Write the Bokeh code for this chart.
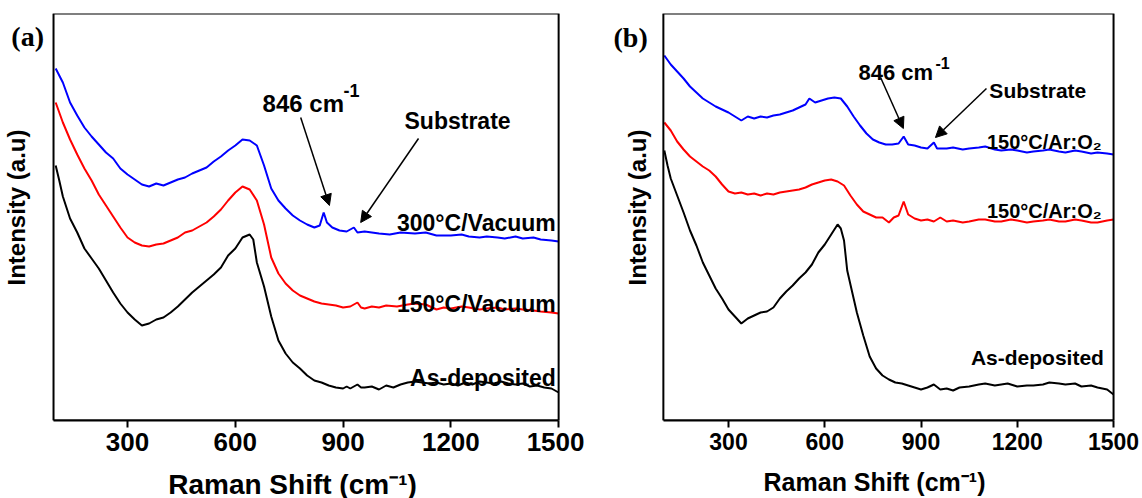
import math
from bokeh.plotting import figure
from bokeh.layouts import row
from bokeh.models import Range1d, Label, Arrow, NormalHead, FixedTicker, BoxAnnotation
from bokeh.embed import file_html
from bokeh.resources import INLINE

# ---------------- data: panel (a) ----------------
a_black_x = [100, 110, 120, 140, 160, 180, 200, 220, 240, 260, 280, 300, 320, 340, 360, 380, 400, 420, 440, 460,
             480, 500, 520, 540, 560, 580, 600, 620, 640, 650, 660, 680, 700, 720, 740, 760, 780, 800, 820, 840,
             860, 880, 900, 910, 920, 940, 950, 960, 980, 1000, 1010, 1020, 1040, 1060, 1080, 1100, 1120, 1140,
             1160, 1180, 1200, 1220, 1240, 1260, 1280, 1300, 1320, 1340, 1360, 1380, 1400, 1420, 1440, 1460,
             1480, 1490, 1500]
a_black_y = [255, 240, 224, 202, 188, 172, 162, 152, 140, 128, 117, 108, 101, 95, 97, 101, 103, 108, 114, 121,
             128, 134, 140, 146, 153, 165, 172, 183, 186, 181, 158, 134, 104, 80, 67, 58, 52, 45, 40, 38,
             35, 33, 32, 34, 32, 36, 33, 33, 34, 31, 33, 35, 33, 36, 38, 39, 38, 37,
             38, 36, 37, 35, 38, 36, 39, 38, 37, 39, 37, 36, 37, 34, 35, 33,
             32, 30, 28]

a_red_x = [100, 120, 140, 160, 180, 200, 220, 240, 260, 280, 300, 320, 340, 360, 380, 400, 420, 440, 460, 480,
           500, 520, 540, 560, 580, 600, 620, 640, 660, 680, 700, 720, 740, 760, 780, 800, 820, 840, 860, 880,
           900, 920, 940, 950, 960, 980, 1000, 1020, 1050, 1080, 1100, 1130, 1160, 1180, 1200, 1230, 1250, 1280,
           1300, 1330, 1350, 1380, 1400, 1430, 1450, 1480, 1500]
a_red_y = [318, 298, 281, 266, 252, 240, 226, 215, 204, 193, 183, 178, 175, 174, 176, 177, 180, 183, 188, 190,
           194, 198, 204, 211, 220, 228, 234, 231, 220, 196, 163, 147, 137, 130, 125, 122, 119, 117, 116, 115,
           113, 114, 118, 113, 112, 114, 113, 115, 114, 116, 117, 116, 111, 113, 112, 114, 113, 111,
           112, 113, 111, 112, 111, 110, 109, 108, 107]

a_blue_x = [100, 120, 140, 160, 180, 200, 220, 240, 260, 280, 300, 320, 340, 360, 380, 400, 420, 440, 460, 480,
            500, 520, 540, 560, 580, 600, 620, 640, 660, 680, 700, 720, 740, 760, 780, 800, 820, 835, 846, 855,
            870, 890, 910, 930, 940, 960, 980, 1000, 1030, 1060, 1100, 1130, 1160, 1200, 1230, 1250, 1280,
            1300, 1330, 1350, 1380, 1400, 1430, 1450, 1480, 1500]
a_blue_y = [352, 338, 318, 305, 293, 284, 276, 268, 262, 252, 246, 241, 236, 234, 237, 235, 238, 241, 243, 247,
            250, 253, 259, 264, 270, 275, 281, 280, 275, 255, 232, 220, 212, 205, 200, 196, 193, 195, 208, 198,
            193, 190, 189, 193, 188, 189, 188, 187, 186, 188, 187, 188, 185, 185, 186, 184, 183,
            184, 183, 182, 184, 182, 183, 181, 180, 179]

# ---------------- data: panel (b) ----------------
b_black_x = [100, 110, 120, 140, 160, 180, 200, 220, 240, 260, 280, 300, 320, 340, 360, 380, 400, 420, 440, 460,
             480, 500, 520, 540, 560, 580, 600, 620, 640, 650, 660, 670, 690, 700, 720, 740, 760, 780, 800, 820,
             840, 860, 880, 900, 920, 940, 960, 980, 1000, 1020, 1050, 1080, 1100, 1130, 1150, 1170, 1200, 1230,
             1250, 1280, 1300, 1330, 1350, 1380, 1400, 1430, 1450, 1480, 1500]
b_black_y = [270, 255, 242, 225, 208, 190, 175, 158, 145, 132, 122, 111, 104, 97, 102, 105, 108, 109, 113, 122,
             129, 135, 142, 148, 156, 168, 176, 186, 196, 192, 180, 150, 122, 108, 85, 64, 52, 45, 41, 38,
             37, 35, 33, 31, 33, 36, 31, 32, 30, 33, 34, 36, 37, 35, 36, 37, 34, 35,
             35, 36, 38, 37, 36, 37, 34, 35, 33, 31, 26]

b_red_x = [100, 120, 140, 160, 180, 200, 220, 240, 260, 280, 300, 320, 340, 360, 380, 400, 420, 440, 460, 480,
           500, 520, 540, 560, 580, 600, 620, 640, 660, 680, 700, 720, 740, 760, 780, 800, 815, 830, 846, 860,
           880, 900, 920, 940, 960, 980, 1000, 1030, 1050, 1080, 1100, 1130, 1150, 1180, 1200, 1230, 1250, 1280,
           1300, 1330, 1350, 1380, 1400, 1430, 1450, 1480, 1500]
b_red_y = [298, 290, 279, 271, 264, 259, 254, 250, 244, 236, 229, 227, 228, 226, 227, 225, 227, 226, 228, 229,
           230, 231, 233, 236, 238, 240, 241, 239, 235, 225, 216, 209, 206, 203, 203, 198, 203, 205, 219, 206,
           202, 200, 201, 199, 203, 199, 200, 198, 199, 201, 201, 199, 199, 201, 200, 198, 199, 200,
           201, 199, 199, 201, 200, 198, 198, 200, 201]

b_blue_x = [100, 120, 140, 160, 180, 200, 220, 240, 260, 280, 300, 320, 340, 360, 380, 400, 420, 440, 460, 480,
            500, 520, 540, 552, 570, 590, 610, 630, 650, 670, 690, 710, 730, 750, 770, 790, 810, 830, 846, 860,
            880, 900, 920, 940, 950, 980, 1000, 1030, 1050, 1080, 1100, 1130, 1150, 1180, 1200, 1230, 1250, 1280,
            1300, 1330, 1350, 1380, 1400, 1430, 1450, 1480, 1500]
b_blue_y = [365, 356, 349, 342, 334, 328, 322, 318, 314, 311, 308, 304, 300, 304, 302, 304, 303, 305, 306, 308,
            310, 313, 316, 322, 318, 320, 322, 323, 322, 314, 304, 295, 287, 281, 278, 276, 276, 277, 284, 276,
            275, 273, 272, 278, 272, 272, 273, 271, 272, 273, 274, 271, 270, 271, 270, 268, 269, 270,
            271, 269, 268, 270, 269, 267, 268, 267, 266]

x_ticks = [300, 600, 900, 1200, 1500]
x_title = "Raman Shift (cm\u207b\u00b9)"
y_title = "Intensity (a.u)"

SANS = "Liberation Sans"
SERIF = "Liberation Serif"


def make_panel(x_range, box_left, frame_w, mb_left, tick_px, title_px):
    p = figure(output_backend="svg", toolbar_location=None,
               frame_width=frame_w, frame_height=407,
               min_border_left=mb_left, min_border_right=0,
               min_border_top=13, min_border_bottom=78,
               x_range=Range1d(*x_range), y_range=Range1d(0, 407),
               background_fill_color="white", border_fill_color="white")
    p.xgrid.visible = False
    p.ygrid.visible = False
    p.yaxis.visible = False
    p.outline_line_color = None
    # plot box
    p.add_layout(BoxAnnotation(left=box_left, right=1500, bottom=0, top=407,
                               fill_alpha=0, line_color="black", line_width=2,
                               line_alpha=1.0))
    ax = p.xaxis[0]
    ax.bounds = (box_left, 1500)
    ax.ticker = FixedTicker(ticks=x_ticks, minor_ticks=[])
    ax.axis_line_width = 2
    ax.major_tick_line_width = 2
    ax.major_tick_out = 7
    ax.major_tick_in = 0
    ax.minor_tick_out = 0
    ax.minor_tick_in = 0
    ax.major_label_standoff = 5
    ax.major_label_text_font = SANS
    ax.major_label_text_font_style = "bold"
    ax.major_label_text_font_size = f"{tick_px}px"
    ax.major_label_text_color = "black"
    ax.axis_label = x_title
    ax.axis_label_standoff = 15
    ax.axis_label_text_font = SANS
    ax.axis_label_text_font_style = "bold"
    ax.axis_label_text_font_size = f"{title_px}px"
    ax.axis_label_text_color = "black"
    return p


def add_text(p, x, y, text, size, align="left", font=SANS, baseline="alphabetic", angle=0.0):
    p.add_layout(Label(x=x, y=y, text=text, text_font=font, text_font_style="bold",
                       text_font_size=f"{size}px", text_color="black", text_align=align,
                       text_baseline=baseline, angle=angle))


def add_arrow(p, xs, ys, xe, ye):
    p.add_layout(Arrow(end=NormalHead(size=11, fill_color="black", line_color="black"),
                       x_start=xs, y_start=ys, x_end=xe, y_end=ye,
                       line_color="black", line_width=1.5))


# ---------------- panel (a) ----------------
pa = make_panel((-53.6, 1572), 94, 584, 0, 26, 28)
pa.line(a_black_x, a_black_y, line_color="black", line_width=2)
pa.line(a_red_x, a_red_y, line_color="#ff0000", line_width=2)
pa.line(a_blue_x, a_blue_y, line_color="#0000ff", line_width=2)
add_text(pa, 676, 317, "846 cm", 24)
add_text(pa, 901, 330, "-1", 18)
add_arrow(pa, 782, 303, 862, 215)
add_text(pa, 1071, 300, "Substrate", 23)
add_arrow(pa, 1110, 282, 949, 198)
add_text(pa, 1492, 198, "300\u00b0C/Vacuum", 23, align="right")
add_text(pa, 1492, 117, "150\u00b0C/Vacuum", 23, align="right")
add_text(pa, 1492, 43, "As-deposited", 23, align="right")
add_text(pa, 22, 384, "(a)", 28, align="center", font=SERIF, baseline="middle")
add_text(pa, -9, 213, y_title, 24, align="center", baseline="middle", angle=math.pi / 2)

# ---------------- panel (b) ----------------
pb = make_panel((-74, 1584), 97, 532, 24, 23, 25)
pb.line(b_black_x, b_black_y, line_color="black", line_width=2)
pb.line(b_red_x, b_red_y, line_color="#ff0000", line_width=2)
pb.line(b_blue_x, b_blue_y, line_color="#0000ff", line_width=2)
add_text(pb, 705, 348, "846 cm", 22)
add_text(pb, 945, 358, "-1", 16)
add_arrow(pb, 774, 343, 845, 292)
add_text(pb, 1113, 330, "Substrate", 21)
add_arrow(pb, 1104, 332, 945, 283)
add_text(pb, 1463, 279, "150\u00b0C/Ar:O\u2082", 20, align="right")
add_text(pb, 1463, 210, "150\u00b0C/Ar:O\u2082", 20, align="right")
add_text(pb, 1470, 63, "As-deposited", 21, align="right")
add_text(pb, -5, 383, "(b)", 28, align="center", font=SERIF, baseline="middle")
add_text(pb, 16, 213, y_title, 24, align="center", baseline="middle", angle=math.pi / 2)

layout = row(pa, pb)
open("out.html", "w").write(file_html(layout, INLINE))
